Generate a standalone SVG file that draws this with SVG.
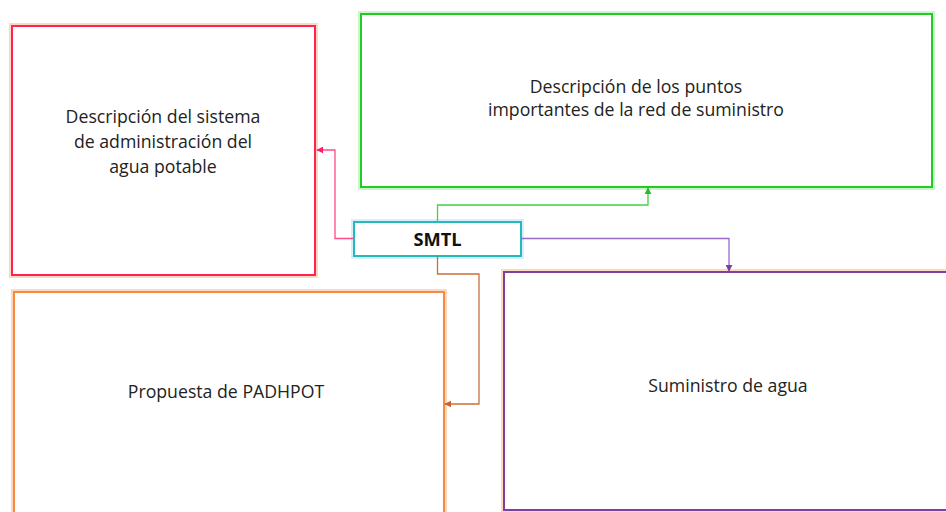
<svg xmlns="http://www.w3.org/2000/svg" width="946" height="512" viewBox="0 0 946 512">
<defs>
<style>
.glow{fill:none;stroke-width:6;stroke-opacity:0.4}
.box{fill:#fff;stroke-width:2}
.t{font-family:"Open Sans","Liberation Sans",sans-serif;font-size:17.7px;fill:#222;text-anchor:middle}
.b{font-family:"Open Sans","Liberation Sans",sans-serif;font-size:18.3px;font-weight:bold;fill:#111;text-anchor:middle}
.c{fill:none;stroke-width:1.3}
</style>
<marker id="aR" viewBox="0 0 10 10" refX="9" refY="5" markerWidth="7" markerHeight="7" markerUnits="userSpaceOnUse" orient="auto"><path d="M0,0L10,5L0,10z" fill="#FF1A6A"/></marker>
<marker id="aG" viewBox="0 0 10 10" refX="9" refY="5" markerWidth="7" markerHeight="7" markerUnits="userSpaceOnUse" orient="auto"><path d="M0,0L10,5L0,10z" fill="#22C022"/></marker>
<marker id="aP" viewBox="0 0 10 10" refX="9" refY="5" markerWidth="7" markerHeight="7" markerUnits="userSpaceOnUse" orient="auto"><path d="M0,0L10,5L0,10z" fill="#7A3FA0"/></marker>
<marker id="aO" viewBox="0 0 10 10" refX="9" refY="5" markerWidth="7" markerHeight="7" markerUnits="userSpaceOnUse" orient="auto"><path d="M0,0L10,5L0,10z" fill="#C8642A"/></marker>
</defs>
<rect width="946" height="512" fill="#fff"/>
<g id="node-admin">
<rect class="glow" x="12" y="26" width="303" height="249" stroke="#F9A060"/>
<rect class="box" x="12" y="26" width="303" height="249" stroke="#FF2255"/>
<text class="t" x="163" y="123">Descripción del sistema</text>
<text class="t" x="163" y="148">de administración del</text>
<text class="t" x="163" y="173">agua potable</text>
</g>
<g id="node-puntos">
<rect class="glow" x="361" y="14" width="571" height="173" stroke="#7EE87E"/>
<rect class="box" x="361" y="14" width="571" height="173" stroke="#22CC22"/>
<text class="t" x="636" y="93">Descripción de los puntos</text>
<text class="t" x="636" y="116">importantes de la red de suministro</text>
</g>
<g id="node-padhpot">
<rect class="glow" x="14" y="292" width="430" height="240" stroke="#F9A060"/>
<rect class="box" x="14" y="292" width="430" height="240" stroke="#F58A40"/>
<text class="t" x="226" y="398">Propuesta de PADHPOT</text>
</g>
<g id="node-suministro">
<rect class="glow" x="504" y="272" width="460" height="238" stroke="#F9A060"/>
<rect class="box" x="504" y="272" width="460" height="238" stroke="#7F3FA0"/>
<text class="t" x="728" y="392">Suministro de agua</text>
</g>
<g id="node-smtl">
<rect class="glow" x="354" y="222" width="167" height="34" stroke="#9ED4F8"/>
<rect class="box" x="354" y="222" width="167" height="34" stroke="#22BBBB"/>
<text class="b" x="437.5" y="245.5">SMTL</text>
</g>
<g id="connectors">
<path class="c" d="M354,238.5H335V150H317" stroke="#FF4A8A" marker-end="url(#aR)"/>
<path class="c" d="M437.5,222V205H648V188" stroke="#44D044" marker-end="url(#aG)"/>
<path class="c" d="M521,238.5H729V271" stroke="#9A6AC8" marker-end="url(#aP)"/>
<path class="c" d="M437.5,256V274H479V404H445" stroke="#C8703A" marker-end="url(#aO)"/>
</g>
</svg>
